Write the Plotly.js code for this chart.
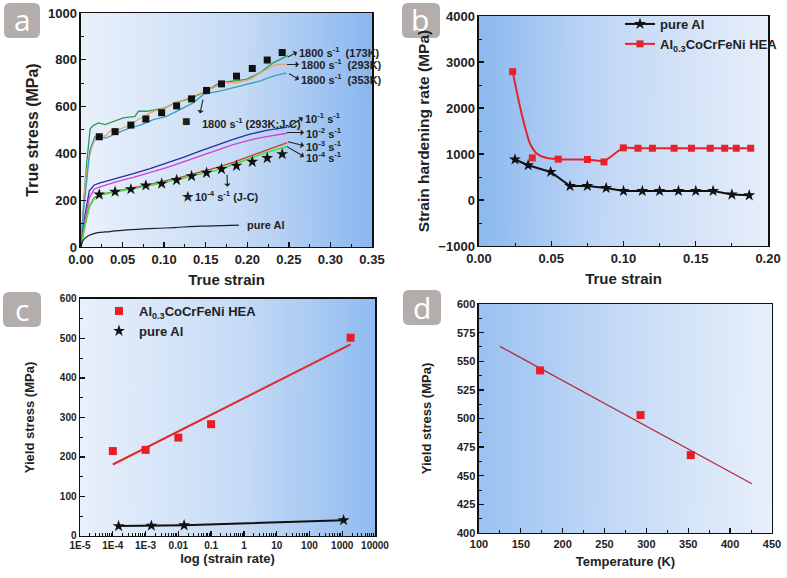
<!DOCTYPE html>
<html>
<head>
<meta charset="utf-8">
<script src="https://cdn.plot.ly/plotly-3.0.1.min.js"></script>
<style>html,body{margin:0;padding:0;background:#fff;}#chart{width:787px;height:578px;}</style>
</head>
<body>
<div id="chart"></div>
<script>
// ---------- Panel a : true stress - true strain ----------
const strain173 = [0, 0.003, 0.0069, 0.011, 0.015, 0.021, 0.0289, 0.0389, 0.051, 0.065, 0.069, 0.079, 0.089, 0.101, 0.113, 0.127, 0.137, 0.151, 0.167, 0.183, 0.199, 0.215, 0.231, 0.249];
const stress173 = [0, 180, 359, 505, 520, 530, 523, 537, 552, 558, 580, 580, 587, 594, 616, 630, 644, 666, 702, 709, 716, 744, 787, 818];
const strain293 = [0, 0.002, 0.0048, 0.0088, 0.0148, 0.0209, 0.0289, 0.037, 0.045, 0.055, 0.069, 0.083, 0.099, 0.115, 0.131, 0.145, 0.159, 0.171, 0.187, 0.203, 0.219, 0.235, 0.247];
const stress293 = [0, 100, 258, 373, 444, 480, 473, 501, 501, 516, 544, 573, 594, 616, 637, 659, 680, 702, 702, 716, 751, 780, 780];
const strain353 = [0, 0.003, 0.0108, 0.0168, 0.0229, 0.031, 0.043, 0.059, 0.073, 0.087, 0.103, 0.119, 0.135, 0.147, 0.155, 0.167, 0.183, 0.199, 0.215, 0.231, 0.247];
const stress353 = [0, 150, 416, 473, 466, 466, 487, 509, 523, 544, 558, 587, 616, 651, 659, 666, 680, 694, 709, 730, 744];

const strainQS = [0, 0.005, 0.01, 0.016, 0.023, 0.043, 0.063, 0.083, 0.103, 0.123, 0.143, 0.163, 0.183, 0.203, 0.223, 0.248];
const stressRate1 = [0, 140, 240, 265, 274, 293, 313, 335, 358, 383, 410, 436, 460, 482, 498, 512];
const stressRate2 = [0, 120, 210, 248, 257, 279, 297, 317, 339, 364, 389, 414, 437, 457, 472, 486];
const stressRate3 = [0, 100, 175, 212, 224, 240, 254, 268, 283, 301, 320, 339, 362, 388, 414, 446];
const stressRate4 = [0, 95, 170, 208, 222, 237, 250, 263, 277, 294, 312, 328, 352, 378, 404, 430];

const strainJC = [0.022, 0.041, 0.060, 0.078, 0.097, 0.115, 0.133, 0.151, 0.169, 0.187, 0.206, 0.224, 0.242];
const stressJC1800 = [471, 493, 521, 547, 574, 603, 633, 669, 697, 730, 763, 799, 831];
const stressJCqs = [224, 236, 247, 263, 271, 286, 303, 317, 333, 347, 364, 380, 397];

const strainAl = [0, 0.002, 0.005, 0.01, 0.02, 0.035, 0.055, 0.075, 0.095, 0.113, 0.143, 0.17, 0.19];
const stressAl = [0, 25, 38, 50, 61, 66, 73, 77, 80, 83, 89, 91, 93];

// ---------- Panel b : strain hardening rate ----------
const strainB_Al = [0.0249, 0.034, 0.0496, 0.063, 0.075, 0.088, 0.100, 0.113, 0.125, 0.138, 0.150, 0.162, 0.175, 0.187];
const rateB_Al = [880, 756, 610, 305, 305, 261, 196, 196, 196, 196, 196, 196, 118, 102];
const strainB_HEA = [0.0233, 0.0369, 0.0549, 0.075, 0.0865, 0.0999, 0.110, 0.120, 0.135, 0.147, 0.160, 0.170, 0.178, 0.188];
const rateB_HEA = [2790, 915, 887, 880, 828, 1133, 1125, 1125, 1125, 1125, 1125, 1125, 1125, 1125];
const strainB_HEAcurve = [0.0233, 0.0284, 0.0318, 0.0353, 0.0399, 0.0457, 0.0549, 0.075, 0.0865, 0.0999, 0.110, 0.120, 0.135, 0.147, 0.160, 0.170, 0.178, 0.188];
const rateB_HEAcurve = [2790, 2026, 1590, 1229, 1011, 923, 887, 880, 852, 1128, 1125, 1125, 1125, 1125, 1125, 1125, 1125, 1125];

// ---------- Panel c : yield stress vs strain rate ----------
const rateC_HEA = [1e-4, 1e-3, 1e-2, 1e-1, 1800];
const yieldC_HEA = [215, 218, 249, 283, 502];
const rateC_fit = [1e-4, 1800];
const yieldC_fit = [181, 485];
const rateC_Al = [1.5e-4, 1.5e-3, 1.5e-2, 1100];
const yieldC_Al = [25, 26, 27, 40];
const tickC_vals = [1e-5, 1e-4, 1e-3, 1e-2, 1e-1, 1, 10, 100, 1000, 10000];
const tickC_text = ['1E-5', '1E-4', '1E-3', '0.01', '0.1', '1', '10', '100', '1000', '10000'];

// ---------- Panel d : yield stress vs temperature ----------
const tempD = [173, 293, 353];
const yieldD = [542, 503, 468];
const tempD_fit = [125, 426];
const yieldD_fit = [563, 443];

// ================= helpers =================
const W = 787, H = 578;
const FONT = 'Arial, "Liberation Sans", sans-serif';
const TXT = '#222';
function px2x(p){ return p / W; }
function px2y(p){ return 1 - p / H; }

function gradient(stops){
  const c = document.createElement('canvas');
  c.width = 300; c.height = 4;
  const g = c.getContext('2d');
  const lg = g.createLinearGradient(0, 0, 300, 0);
  stops.forEach(s => lg.addColorStop(s[0], s[1]));
  g.fillStyle = lg; g.fillRect(0, 0, 300, 4);
  return c.toDataURL();
}
function bgImage(xr, yr, stops){
  return {source: gradient(stops), xref: xr + ' domain', yref: yr + ' domain', x: 0, y: 1,
          sizex: 1, sizey: 1, sizing: 'stretch', xanchor: 'left', yanchor: 'top', layer: 'below'};
}
function axis(extra, fs){
  return Object.assign({
    showline: true, linecolor: '#111', linewidth: 1.5, mirror: true,
    ticks: 'inside', ticklen: 5, tickwidth: 1.3, tickcolor: '#111',
    showgrid: false, zeroline: false,
    tickfont: {family: FONT, size: fs, color: TXT, weight: 700},
    minor: {ticks: 'inside', ticklen: 3, tickwidth: 1, tickcolor: '#111', showgrid: false}
  }, extra);
}
function atitle(text, fs, standoff){
  return {text: text, font: {family: FONT, size: fs, color: TXT, weight: 700}, standoff: standoff};
}
function roundBox(x0, y0, x1, y1, r){
  const X = p => px2x(p), Y = p => px2y(p);
  const path = 'M' + X(x0 + r) + ',' + Y(y0) + ' L' + X(x1 - r) + ',' + Y(y0) +
    ' Q' + X(x1) + ',' + Y(y0) + ' ' + X(x1) + ',' + Y(y0 + r) +
    ' L' + X(x1) + ',' + Y(y1 - r) + ' Q' + X(x1) + ',' + Y(y1) + ' ' + X(x1 - r) + ',' + Y(y1) +
    ' L' + X(x0 + r) + ',' + Y(y1) + ' Q' + X(x0) + ',' + Y(y1) + ' ' + X(x0) + ',' + Y(y1 - r) +
    ' L' + X(x0) + ',' + Y(y0 + r) + ' Q' + X(x0) + ',' + Y(y0) + ' ' + X(x0 + r) + ',' + Y(y0) + ' Z';
  return {type: 'path', xref: 'paper', yref: 'paper', path: path, fillcolor: '#b3aeac', line: {width: 0}, layer: 'above'};
}
function letter(t, cx, cy){
  return {xref: 'paper', yref: 'paper', x: px2x(cx), y: px2y(cy), text: t, showarrow: false,
          xanchor: 'center', yanchor: 'middle', font: {family: '"Open Sans", Arial, sans-serif', size: 30, color: '#fff'}};
}
// gapped arrays so a legend can show a line sample while the markers stay unconnected
function gapped(arr){ const out = []; arr.forEach((v, i) => { if(i) out.push(null); out.push(v); }); return out; }

// ================= traces =================
const traces = [
  // panel a
  {x: strain173, y: stress173, mode: 'lines', line: {color: '#2e9b4f', width: 1.3}, xaxis: 'x', yaxis: 'y', showlegend: false},
  {x: strain293, y: stress293, mode: 'lines', line: {color: '#e9a466', width: 1.3}, xaxis: 'x', yaxis: 'y', showlegend: false},
  {x: strain353, y: stress353, mode: 'lines', line: {color: '#3a9fbe', width: 1.3}, xaxis: 'x', yaxis: 'y', showlegend: false},
  {x: strainQS, y: stressRate1, mode: 'lines', line: {color: '#2b2d9c', width: 1.3}, xaxis: 'x', yaxis: 'y', showlegend: false},
  {x: strainQS, y: stressRate2, mode: 'lines', line: {color: '#d43fd6', width: 1.3}, xaxis: 'x', yaxis: 'y', showlegend: false},
  {x: strainQS, y: stressRate3, mode: 'lines', line: {color: '#d23a3a', width: 1.3}, xaxis: 'x', yaxis: 'y', showlegend: false},
  {x: strainQS, y: stressRate4, mode: 'lines', line: {color: '#3fe63f', width: 1.6}, xaxis: 'x', yaxis: 'y', showlegend: false},
  {x: strainAl, y: stressAl, mode: 'lines', line: {color: '#1e1e2c', width: 1.2, shape: 'spline'}, xaxis: 'x', yaxis: 'y', showlegend: false},
  {x: strainJC, y: stressJC1800, mode: 'markers', marker: {symbol: 'square', size: 7, color: '#111'}, xaxis: 'x', yaxis: 'y', showlegend: false},
  {x: strainJC, y: stressJCqs, mode: 'markers', marker: {symbol: 'star', size: 9, color: '#111'}, xaxis: 'x', yaxis: 'y', showlegend: false},
  // panel b
  {x: strainB_HEAcurve, y: rateB_HEAcurve, mode: 'lines', line: {color: '#e8222a', width: 2, shape: 'spline', smoothing: 0.8},
   xaxis: 'x2', yaxis: 'y2', showlegend: false},
  {x: strainB_Al, y: rateB_Al, name: 'pure Al', mode: 'lines+markers', line: {color: '#111', width: 2},
   marker: {symbol: 'star', size: 9, color: '#111'}, xaxis: 'x2', yaxis: 'y2', legend: 'legend'},
  {x: gapped(strainB_HEA), y: gapped(rateB_HEA), name: 'Al<sub>0.3</sub>CoCrFeNi HEA', mode: 'lines+markers', connectgaps: false,
   line: {color: '#e8222a', width: 2}, marker: {symbol: 'square', size: 7, color: '#e8222a'},
   xaxis: 'x2', yaxis: 'y2', legend: 'legend'},
  // panel c
  {x: rateC_fit, y: yieldC_fit, mode: 'lines', line: {color: '#dd2a2a', width: 2}, xaxis: 'x3', yaxis: 'y3', showlegend: false},
  {x: rateC_Al, y: yieldC_Al, mode: 'lines', line: {color: '#111', width: 2}, xaxis: 'x3', yaxis: 'y3', showlegend: false},
  {x: rateC_HEA, y: yieldC_HEA, name: 'Al<sub>0.3</sub>CoCrFeNi HEA', mode: 'markers',
   marker: {symbol: 'square', size: 8, color: '#ec1c24'}, xaxis: 'x3', yaxis: 'y3', legend: 'legend2'},
  {x: rateC_Al, y: yieldC_Al, name: 'pure Al', mode: 'markers',
   marker: {symbol: 'star', size: 9, color: '#111'}, xaxis: 'x3', yaxis: 'y3', legend: 'legend2'},
  // panel d
  {x: tempD_fit, y: yieldD_fit, mode: 'lines', line: {color: '#b4283c', width: 1.2}, xaxis: 'x4', yaxis: 'y4', showlegend: false},
  {x: tempD, y: yieldD, mode: 'markers', marker: {symbol: 'square', size: 8, color: '#ec1c24'}, xaxis: 'x4', yaxis: 'y4', showlegend: false}
];

// ================= annotations =================
const annFont = {family: FONT, size: 11, color: TXT, weight: 700};
function lab(text, x, y){ return {xref: 'x', yref: 'y', x: x, y: y, text: text, showarrow: false, xanchor: 'left', yanchor: 'middle', font: annFont}; }
// label whose arrow runs from a curve point (px, py) to the text box, head at the text
function arrLab(text, px, py, tx, ty, xa, ya){
  return {xref: 'x', yref: 'y', x: px, y: py, axref: 'x', ayref: 'y', ax: tx, ay: ty, text: text, showarrow: true,
          arrowside: 'start', arrowhead: 2, arrowsize: 0.9, arrowwidth: 1.1, arrowcolor: '#222',
          xanchor: xa || 'left', yanchor: ya || 'middle', font: annFont};
}
const annotations = [
  arrLab('1800 s<sup>-1</sup>  (173K)', 0.249, 812, 0.2598, 833),
  arrLab('1800 s<sup>-1</sup>  (293K)', 0.2478, 780, 0.2622, 780),
  arrLab('1800 s<sup>-1</sup>  (353K)', 0.2502, 740, 0.2622, 716),
  lab('<span style="font-size:14px">■</span>', 0.1195, 540),
  arrLab('1800 s<sup>-1</sup> (293K;J-C)', 0.1467, 630, 0.1431, 570, 'left', 'top'),
  arrLab('10<sup>-1</sup> s<sup>-1</sup>', 0.249, 510, 0.2668, 553),
  arrLab('10<sup>-2</sup> s<sup>-1</sup>', 0.2478, 489, 0.2682, 489),
  arrLab('10<sup>-3</sup> s<sup>-1</sup>', 0.249, 450, 0.2682, 433),
  arrLab('10<sup>-4</sup> s<sup>-1</sup>', 0.2478, 429, 0.2682, 386),
  lab('<span style="font-size:13px">★</span>', 0.1195, 214),
  arrLab('10<sup>-4</sup> s<sup>-1</sup> (J-C)', 0.1756, 309, 0.1762, 257, 'center', 'top'),
  lab('pure Al', 0.197, 94),
  letter('a', 22, 20), letter('b', 420, 20), letter('c', 22, 309), letter('d', 422, 307)
];

const layout = {
  width: W, height: H, margin: {l: 0, r: 0, t: 0, b: 0},
  paper_bgcolor: '#fff', plot_bgcolor: 'rgba(0,0,0,0)',
  font: {family: FONT, color: TXT},
  xaxis: axis({domain: [0.1029, 0.4727], range: [0, 0.35], dtick: 0.05, tickformat: '.2f', anchor: 'y',
               title: atitle('True strain', 15, 8)}, 13),
  yaxis: axis({domain: [0.5727, 0.9775], range: [0, 1000], dtick: 200, anchor: 'x',
               title: atitle('True stress (MPa)', 16, 5)}, 13),
  xaxis2: axis({domain: [0.6086, 0.9759], range: [0, 0.2], dtick: 0.05, tickformat: '.2f', anchor: 'y2',
               title: atitle('True strain', 15, 8)}, 13),
  yaxis2: axis({domain: [0.5744, 0.9723], range: [-1000, 4000], dtick: 1000, anchor: 'x2',
               title: atitle('Strain hardening rate (MPa)', 15.5, 5)}, 13),
  xaxis3: axis({domain: [0.1017, 0.4765], type: 'log', range: [-5, 4], tickmode: 'array', tickvals: tickC_vals, ticktext: tickC_text,
               anchor: 'y3', title: atitle('log (strain rate)', 13, 0)}, 10),
  yaxis3: axis({domain: [0.0727, 0.4827], range: [0, 600], dtick: 100, anchor: 'x3',
               title: atitle('Yield stress (MPa)', 13, 22)}, 10),
  xaxis4: axis({domain: [0.6086, 0.9809], range: [100, 450], dtick: 50, anchor: 'y4',
               title: atitle('Temperature (K)', 13, 8)}, 11),
  yaxis4: axis({domain: [0.0779, 0.474], range: [400, 600], dtick: 25, anchor: 'x4',
               title: atitle('Yield stress (MPa)', 13, 22)}, 11),
  legend: {x: px2x(620), y: px2y(9), xanchor: 'left', yanchor: 'top', bgcolor: 'rgba(0,0,0,0)',
           font: {family: FONT, size: 13, color: TXT, weight: 700}, tracegroupgap: 0},
  legend2: {x: px2x(99), y: px2y(296), xanchor: 'left', yanchor: 'top', bgcolor: 'rgba(0,0,0,0)',
           font: {family: FONT, size: 13, color: TXT, weight: 700}, tracegroupgap: 0},
  images: [
    bgImage('x', 'y', [[0, '#eaf1fb'], [0.55, '#c6dbf6'], [1, '#8ab7ef']]),
    bgImage('x2', 'y2', [[0, '#8cb9ef'], [0.45, '#c3d9f6'], [1, '#e7eefa']]),
    bgImage('x3', 'y3', [[0, '#e8f0fb'], [0.55, '#c6dbf6'], [1, '#90bcf0']]),
    bgImage('x4', 'y4', [[0, '#9ac2f2'], [0.5, '#c6dbf6'], [1, '#e8f0fb']])
  ],
  shapes: [roundBox(4, 3, 40, 38, 6), roundBox(402, 3, 440, 38, 6), roundBox(3, 292, 41, 327, 6), roundBox(403, 290, 441, 325, 6)],
  annotations: annotations
};
layout.xaxis.minor.dtick = 0.025;
layout.yaxis.minor.dtick = 100;
layout.xaxis2.minor.dtick = 0.025;
layout.yaxis2.minor.dtick = 500;
layout.xaxis3.minor = Object.assign({}, layout.xaxis3.minor, {tickmode: 'linear', dtick: 'D1'});
layout.yaxis3.minor.dtick = 50;
layout.xaxis4.minor.dtick = 25;
layout.yaxis4.minor.dtick = 12.5;

Plotly.newPlot('chart', traces, layout, {staticPlot: true, displayModeBar: false});
</script>
</body>
</html>
